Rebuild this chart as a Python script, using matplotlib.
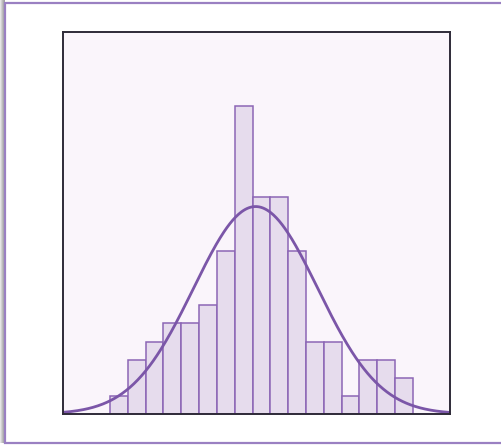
import numpy as np
import matplotlib
matplotlib.use("Agg")
import matplotlib.pyplot as plt
from matplotlib.patches import Rectangle

# Data: histogram counts per bin (bin width 1)
bin_edges = list(range(0, 18))
counts = [1, 3, 4, 5, 5, 6, 9, 17, 12, 12, 9, 4, 4, 1, 3, 3, 2]

W, H = 501, 446
fig = plt.figure(figsize=(W / 100, H / 100), dpi=100)
fig.patch.set_facecolor("white")

# shadow on the left and frame
for i, a in enumerate([0.10, 0.18, 0.26, 0.32, 0.36]):
    fig.add_artist(Rectangle((i / W, 3 / H), 1 / W, (H - 3) / H,
                             transform=fig.transFigure, facecolor="black",
                             alpha=a, edgecolor="none", zorder=0))
fig.add_artist(Rectangle((5 / W, 3 / H), 1.0, (H - 6) / H,
                         transform=fig.transFigure, facecolor="white",
                         edgecolor="#9a80c2", linewidth=1.6, zorder=1))

ax = fig.add_axes([63 / W, (H - 414) / H, (450 - 63) / W, (414 - 32) / H])
ax.set_facecolor("#faf5fb")
ax.set_zorder(2)

centers = np.array(bin_edges[:-1]) + 0.5
cnt = np.array(counts)
ax.bar(np.array(bin_edges[:-1]), cnt, width=1.0, align="edge",
       color="#e6dced", edgecolor="#8c66b5", linewidth=1.1, zorder=2)

mean = np.sum(cnt * centers) / cnt.sum()
std = np.sqrt(np.sum(cnt * (centers - mean) ** 2) / cnt.sum())
xlim = (-2.64, 19.08)
xs = np.linspace(xlim[0], xlim[1], 400)
ys = cnt.sum() * 1.0 / (std * np.sqrt(2 * np.pi)) * np.exp(-0.5 * ((xs - mean) / std) ** 2)
ax.plot(xs, ys, color="#7b56a8", linewidth=2.0, zorder=3)

ax.set_xlim(*xlim)
ax.set_ylim(0, 21.1)
ax.set_xticks([])
ax.set_yticks([])
for s in ax.spines.values():
    s.set_color("#2e2a38")
    s.set_linewidth(1.4)
    s.set_zorder(4)

fig.savefig("out.png", dpi=100)
